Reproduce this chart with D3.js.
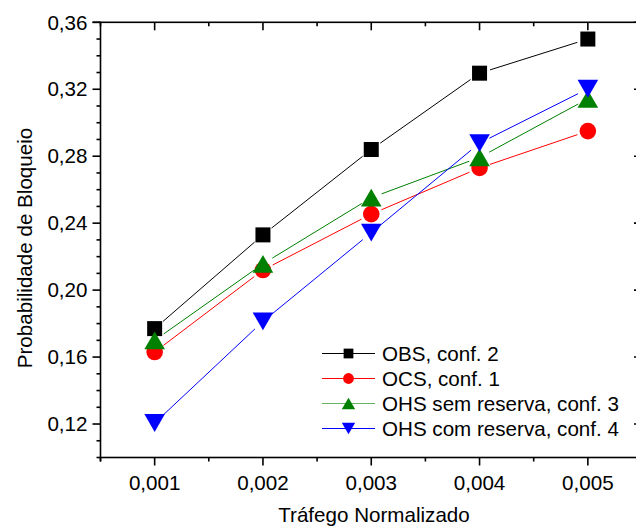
<!DOCTYPE html>
<html>
<head>
<meta charset="utf-8">
<script src="https://cdn.jsdelivr.net/npm/d3@7"></script>
<style>
  html, body { margin: 0; padding: 0; background: #fff; }
  svg { display: block; font-family: "Liberation Sans", Arial, sans-serif; }
</style>
</head>
<body>
<svg id="chart" width="636" height="527"></svg>
<script>
// ---- Data ----
const xValues = [0.001, 0.002, 0.003, 0.004, 0.005];
const obsConf2 = [0.177, 0.233, 0.284, 0.3296, 0.350];
const ocsConf1 = [0.163, 0.212, 0.2454, 0.273, 0.295];
const ohsSemReserva = [0.170, 0.2157, 0.2552, 0.2793, 0.3143];
const ohsComReserva = [0.1206, 0.1813, 0.2343, 0.2878, 0.3203];
const seriesNames = ["OBS, conf. 2", "OCS, conf. 1", "OHS sem reserva, conf. 3", "OHS com reserva, conf. 4"];
const xTickValues = [0.001, 0.002, 0.003, 0.004, 0.005];
const yTickValues = [0.12, 0.16, 0.20, 0.24, 0.28, 0.32, 0.36];
const xTitle = "Tráfego Normalizado";
const yTitle = "Probabilidade de Bloqueio";

const series = [
  { name: seriesNames[0], values: obsConf2, color: "#000000", shape: "square" },
  { name: seriesNames[1], values: ocsConf1, color: "#ff0000", shape: "circle" },
  { name: seriesNames[2], values: ohsSemReserva, color: "#008000", shape: "up" },
  { name: seriesNames[3], values: ohsComReserva, color: "#0000ff", shape: "down" }
];

// ---- Layout ----
const svg = d3.select("#chart");
const pLeft = 100.5, pRight = 642, pTop = 22.3, pBottom = 457.5;
const x = d3.scaleLinear().domain([0.0005, 0.0055]).range([pLeft, pRight]);
const y = d3.scaleLinear().domain([0.10, 0.36]).range([pBottom, pTop]);

const loc = d3.formatLocale({ decimal: ",", thousands: ".", grouping: [3], currency: ["", ""] });
const fx = loc.format(".3f");
const fy = loc.format(".2f");

const xMinor = d3.range(0.0005, 0.0056, 0.0005).filter(v => !xTickValues.some(t => Math.abs(t - v) < 1e-9));
const yMinor = d3.range(0.10, 0.3601, 0.01).filter(v => !yTickValues.some(t => Math.abs(t - v) < 1e-9));

const fontSize = 20.6;
const axisG = svg.append("g");
const stroke = 1.6;

// Frame
axisG.append("rect").attr("x", pLeft).attr("y", pTop).attr("width", pRight - pLeft).attr("height", pBottom - pTop)
  .attr("fill", "none").attr("stroke", "#000").attr("stroke-width", stroke);

function ticks(vals, len, kind) {
  vals.forEach(v => {
    if (kind === "left") axisG.append("line").attr("x1", pLeft - len).attr("x2", pLeft).attr("y1", y(v)).attr("y2", y(v));
    if (kind === "right") axisG.append("line").attr("x1", pRight - len).attr("x2", pRight).attr("y1", y(v)).attr("y2", y(v));
    if (kind === "bottom") axisG.append("line").attr("x1", x(v)).attr("x2", x(v)).attr("y1", pBottom).attr("y2", pBottom + len);
    if (kind === "top") axisG.append("line").attr("x1", x(v)).attr("x2", x(v)).attr("y1", pTop).attr("y2", pTop + len);
  });
}
axisG.attr("stroke", "#000").attr("stroke-width", stroke);
ticks(yTickValues, 8, "left"); ticks(yMinor, 4, "left");
ticks(yTickValues, 8, "right"); ticks(yMinor, 4, "right");
ticks(xTickValues, 8, "bottom"); ticks(xMinor, 4, "bottom");
ticks(xTickValues, 8, "top"); ticks(xMinor, 4, "top");
axisG.append("line").attr("x1", pLeft - 8).attr("x2", pLeft).attr("y1", pTop).attr("y2", pTop);
axisG.append("line").attr("x1", pLeft).attr("x2", pLeft).attr("y1", pBottom).attr("y2", pBottom + 4);

// Tick labels
const labG = svg.append("g").attr("font-size", fontSize).attr("fill", "#000");
yTickValues.forEach(v => {
  labG.append("text").attr("x", pLeft - 13).attr("y", y(v)).attr("dy", "0.35em")
    .attr("text-anchor", "end").text(fy(v));
});
xTickValues.forEach(v => {
  labG.append("text").attr("x", x(v)).attr("y", 490).attr("text-anchor", "middle").text(fx(v));
});

// Axis titles
svg.append("text").attr("x", 374).attr("y", 521.5).attr("text-anchor", "middle")
  .attr("font-size", fontSize).text(xTitle);
svg.append("text").attr("transform", "translate(31.5,248) rotate(-90)").attr("text-anchor", "middle")
  .attr("font-size", fontSize).text(yTitle);

// Markers
function marker(g, shape, cx, cy, color, s) {
  if (shape === "square") {
    g.append("rect").attr("x", cx - 7.5 * s).attr("y", cy - 7.5 * s).attr("width", 15 * s).attr("height", 15 * s).attr("fill", color);
  } else if (shape === "circle") {
    g.append("circle").attr("cx", cx).attr("cy", cy).attr("r", 8.3 * s).attr("fill", color);
  } else if (shape === "up") {
    const w = 10.3 * s, h = 8.9 * s;
    g.append("path").attr("d", `M${cx - w},${cy + h}L${cx + w},${cy + h}L${cx},${cy - h}Z`).attr("fill", color);
  } else {
    const w = 10.3 * s, h = 8.9 * s;
    g.append("path").attr("d", `M${cx - w},${cy - h}L${cx + w},${cy - h}L${cx},${cy + h}Z`).attr("fill", color);
  }
}

const gap = 11;
const plotG = svg.append("g");
series.forEach(s => {
  const pts = xValues.map((xv, i) => [x(xv), y(s.values[i])]);
  for (let i = 0; i < pts.length - 1; i++) {
    const [x1, y1] = pts[i], [x2, y2] = pts[i + 1];
    const dx = x2 - x1, dy = y2 - y1, L = Math.hypot(dx, dy);
    const ux = dx / L, uy = dy / L;
    plotG.append("line")
      .attr("x1", x1 + ux * gap).attr("y1", y1 + uy * gap)
      .attr("x2", x2 - ux * gap).attr("y2", y2 - uy * gap)
      .attr("stroke", s.color).attr("stroke-width", 1);
  }
});
series.forEach(s => {
  xValues.forEach((xv, i) => marker(plotG, s.shape, x(xv), y(s.values[i]), s.color, 1));
});

// Legend
const legG = svg.append("g");
const legY0 = 353.5, legDy = 25;
series.forEach((s, i) => {
  const ly = legY0 + i * legDy;
  legG.append("line").attr("x1", 322).attr("x2", 375).attr("y1", ly).attr("y2", ly)
    .attr("stroke", s.color).attr("stroke-width", 1).attr("stroke-opacity", s.shape === "up" ? 0.6 : 1);
  marker(legG, s.shape, 348.5, ly, s.color, 0.65);
  legG.append("text").attr("x", 382).attr("y", ly).attr("dy", "0.35em").attr("font-size", fontSize).text(s.name);
});
</script>
</body>
</html>
